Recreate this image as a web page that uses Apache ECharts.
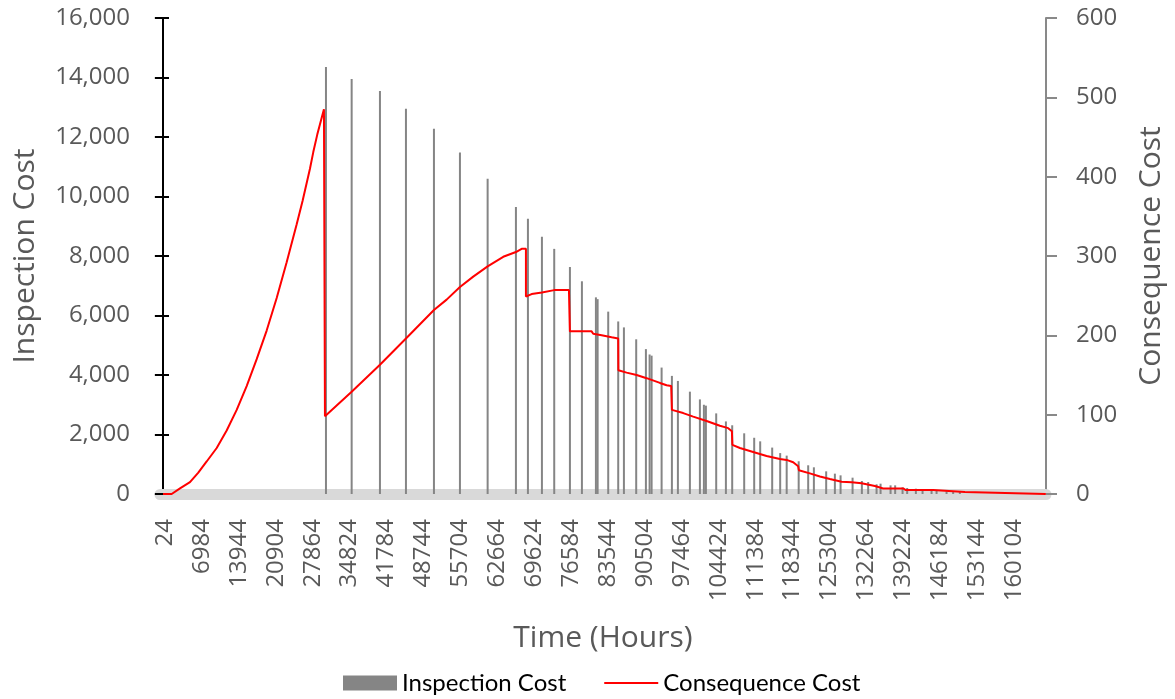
<!DOCTYPE html>
<html>
<head>
<meta charset="utf-8">
<title>Inspection vs Consequence Cost</title>
<script src="https://cdn.jsdelivr.net/npm/echarts@6/dist/echarts.min.js"></script>
<style>
    html, body { margin: 0; padding: 0; background: #fff; }
    #chart { width: 1175px; height: 699px; }
</style>
</head>
<body>
<div id="chart"></div>
<script>
// x axis labels (hours), every 6960 h
const tickLabels = [24, 6984, 13944, 20904, 27864, 34824, 41784, 48744, 55704, 62664, 69624, 76584,
    83544, 90504, 97464, 104424, 111384, 118344, 125304, 132264, 139224, 146184, 153144, 160104];

// inspection cost bars
const inspectionHours = [30750, 35594, 40928, 45830, 51108, 56009, 61230, 66565, 68827, 71466, 73784, 76744,
    79006, 81645, 81966, 83963, 85848, 86923, 89240, 91070, 91767, 92144, 94029, 95971, 97102, 99364,
    101249, 102003, 102380, 104321, 106150, 107337, 109599, 111484, 112615, 114877, 116385, 117610,
    119872, 121663, 122738, 125056, 126696, 127770, 130032, 131786, 132973, 134556, 135310, 137195,
    138063, 139457, 140325, 141965, 143227, 144924, 145866, 147751, 148996, 150258];
const inspectionCost = [14350, 13950, 13550, 12950, 12280, 11480, 10600, 9650, 9250, 8650, 8240, 7630,
    7150, 6610, 6550, 6130, 5800, 5600, 5200, 4870, 4690, 4650, 4250, 3970, 3800, 3440,
    3180, 3000, 2970, 2710, 2440, 2310, 2040, 1890, 1770, 1560, 1375, 1290,
    1100, 965, 897, 762, 684, 627, 549, 437, 403, 325, 347, 291,
    291, 224, 202, 179, 157, 134, 112, 90, 78, 67];

// consequence cost curve (right axis)
const consequenceHours = [24, 1660, 3230, 5110, 6680, 8260, 10150, 12030, 13920, 15800, 17690, 19570,
    21460, 23340, 25230, 26360, 27730, 28360, 29110, 29620, 30370, 30561, 30561, 30750, 35594, 40928,
    45830, 51108, 53501, 56009, 58516, 61230, 64171, 66565, 67639, 68450, 68450, 69524, 71466, 73784,
    76560, 76740, 80834, 81136, 82718, 83020, 84604, 85848, 85880, 87431, 89316, 91201, 93709, 94971,
    95838, 95971, 98100, 99985, 102511, 105020, 106583, 107281, 107375, 108789, 111295, 113821, 116329,
    117592, 118836, 119779, 119900, 121984, 123869, 125754, 127964, 129849, 131734, 134236, 135801,
    139571, 140080, 145225, 145546, 151201, 151521, 166470];
const consequenceCost = [0, 0, 7, 15, 27, 41, 58, 80, 106, 136, 170, 206,
    247, 292, 340, 370, 410, 431, 453, 466, 485, 485, 98, 98, 129, 163,
    196, 232, 245, 261, 274, 287, 299, 305, 309, 309, 249, 252, 254, 257,
    257, 205, 205, 202, 200, 198, 197.5, 196, 156, 153, 150, 146, 140, 137,
    136, 106, 102, 97.5, 92, 86, 83, 79, 62, 58, 53, 48, 44,
    43, 40, 35, 30, 26, 22, 19, 15.5, 14.7, 13.5, 10, 7,
    7, 5, 5, 2.5, 2.5, 0, 0];

const barData = inspectionHours.map((h, i) => [h, inspectionCost[i]]);
const lineData = consequenceHours.map((h, i) => [h, consequenceCost[i]]);

const labelColor = '#595959';
const font = 'Open Sans';

let myChart = echarts.init(document.getElementById('chart'));
let option = {
    animation: false,
    textStyle: { fontFamily: font },
    grid: { left: 160, right: 129, top: 18, bottom: 205 },
    legend: {
        top: 666,
        left: 338,
        itemWidth: 54,
        itemHeight: 15,
        itemGap: 38,
        textStyle: { fontSize: 24, color: '#000', fontFamily: 'Lato' },
        data: [
            { name: 'Inspection Cost', icon: 'rect' },
            // plain red line, no marker
            { name: 'Consequence Cost', icon: 'path://M0,0 L54,0 L54,2 L0,2 Z', itemStyle: { color: '#ff0000' } }
        ]
    },
    xAxis: {
        type: 'value',
        min: -540,
        max: 166500,
        offset: 6,
        name: 'Time (Hours)',
        nameLocation: 'middle',
        nameGap: 123,
        nameTextStyle: { fontSize: 30, color: labelColor, fontFamily: font },
        axisLine: { lineStyle: { color: '#d9d9d9', width: 11 } }, // the grey band under the plot
        axisTick: { show: false },
        axisLabel: {
            customValues: tickLabels,
            formatter: v => String(v),
            rotate: 90,
            margin: 19,
            verticalAlign: 'top', // small nudge so the rotated text sits on its tick
            lineHeight: 4,
            fontSize: 24,
            fontFamily: font,
            color: labelColor
        },
        splitLine: { show: false }
    },
    yAxis: [
        {
            type: 'value',
            min: 0,
            max: 16000,
            interval: 2000,
            position: 'left',
            name: 'Inspection Cost',
            nameLocation: 'middle',
            nameRotate: 90,
            nameGap: 120,
            nameTextStyle: { fontSize: 30, color: labelColor, fontFamily: font },
            axisLine: { show: true, lineStyle: { color: '#000', width: 2 } },
            axisTick: { show: true, length: 8, lineStyle: { color: '#000', width: 2 } },
            axisLabel: {
                margin: 30,
                fontSize: 24,
                fontFamily: font,
                color: labelColor,
                formatter: v => v.toLocaleString('en-US')
            },
            splitLine: { show: false }
        },
        {
            type: 'value',
            min: 0,
            max: 600,
            interval: 100,
            position: 'right',
            name: 'Consequence Cost',
            nameLocation: 'middle',
            nameRotate: 90,
            nameGap: 90,
            nameTextStyle: { fontSize: 30, color: labelColor, fontFamily: font },
            axisLine: { show: true, lineStyle: { color: '#898989', width: 2 } },
            axisTick: { show: true, length: 11, lineStyle: { color: '#898989', width: 2 } },
            axisLabel: { margin: 30, fontSize: 24, fontFamily: font, color: labelColor },
            splitLine: { show: false }
        },
        {
            // inner half of the cross ticks on the left axis
            type: 'value',
            min: 0,
            max: 16000,
            interval: 2000,
            position: 'left',
            axisLine: { show: false },
            axisTick: { show: true, inside: true, length: 9, lineStyle: { color: '#000', width: 2 } },
            axisLabel: { show: false },
            splitLine: { show: false }
        }
    ],
    series: [
        {
            name: 'Inspection Cost',
            type: 'bar',
            yAxisIndex: 0,
            barWidth: 2,
            itemStyle: { color: '#858585' },
            data: barData
        },
        {
            name: 'Consequence Cost',
            type: 'line',
            yAxisIndex: 1,
            symbol: 'none',
            lineStyle: { color: '#ff0000', width: 2 },
            itemStyle: { color: '#ff0000' },
            data: lineData
        }
    ]
};
myChart.setOption(option);
</script>
</body>
</html>
